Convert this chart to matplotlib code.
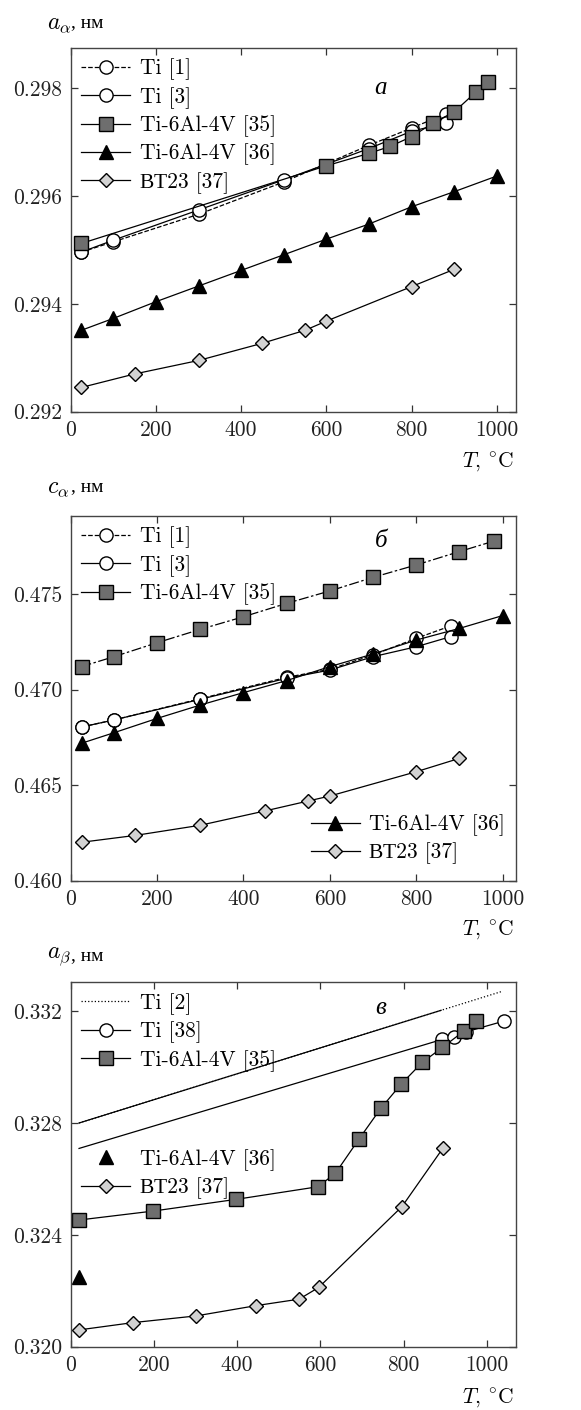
import matplotlib
matplotlib.use("Agg")
import matplotlib.pyplot as plt

plt.rcParams['mathtext.fontset'] = 'cm'
plt.rcParams['font.family'] = ['cmr10', 'Liberation Serif']
plt.rcParams['axes.formatter.use_mathtext'] = True

# ---- панель а: a_alpha ----
a_ti1_t = [25, 100, 300, 500, 700, 800, 880]
a_ti1 = [0.29496, 0.29515, 0.29566, 0.29626, 0.29694, 0.29726, 0.29752]
a_ti3_t = [25, 100, 300, 500, 700, 800, 880]
a_ti3 = [0.29496, 0.29518, 0.29574, 0.29630, 0.29688, 0.29720, 0.29735]
a_35_t = [25, 600, 700, 750, 800, 850, 900, 950, 980]
a_35 = [0.29512, 0.29656, 0.29679, 0.29692, 0.29710, 0.29735, 0.29756, 0.29792, 0.29811]
a_36_t = [25, 100, 200, 300, 400, 500, 600, 700, 800, 900, 1000]
a_36 = [0.29351, 0.29373, 0.29404, 0.29433, 0.29462, 0.29491, 0.29520, 0.29548, 0.29580, 0.29608, 0.29637]
a_37_t = [25, 150, 300, 450, 550, 600, 800, 900]
a_37 = [0.29245, 0.29270, 0.29295, 0.29327, 0.29351, 0.29368, 0.29432, 0.29464]

# ---- панель б: c_alpha ----
c_ti1_t = [25, 100, 300, 500, 600, 700, 800, 880]
c_ti1 = [0.46804, 0.46841, 0.46952, 0.47064, 0.47106, 0.47181, 0.47268, 0.47333]
c_ti3_t = [25, 100, 300, 500, 600, 700, 800, 880]
c_ti3 = [0.46804, 0.46841, 0.46949, 0.47059, 0.47102, 0.47172, 0.47224, 0.47277]
c_35_t = [25, 100, 200, 300, 400, 500, 600, 700, 800, 900, 980]
c_35 = [0.47120, 0.47172, 0.47245, 0.47315, 0.47381, 0.47451, 0.47516, 0.47587, 0.47652, 0.47722, 0.47777]
c_36_t = [25, 100, 200, 300, 400, 500, 600, 700, 800, 900, 1000]
c_36 = [0.46719, 0.46774, 0.46849, 0.46919, 0.46984, 0.47047, 0.47120, 0.47186, 0.47259, 0.47320, 0.47387]
c_37_t = [25, 150, 300, 450, 550, 600, 800, 900]
c_37 = [0.46201, 0.46237, 0.46290, 0.46365, 0.46417, 0.46443, 0.46570, 0.46640]

# ---- панель в: a_beta ----
b_ti2_t = [20, 890, 1035]
b_ti2 = [0.32800, 0.33203, 0.33270]
b_ti38_t = [20, 893, 920, 950, 1040]
b_ti38 = [0.32709, 0.33099, 0.33108, 0.33126, 0.33164]
b_35_t = [20, 198, 398, 594, 636, 693, 745, 794, 845, 893, 946, 973]
b_35 = [0.32453, 0.32485, 0.32527, 0.32572, 0.32620, 0.32743, 0.32852, 0.32939, 0.33017, 0.33070, 0.33130, 0.33166]
b_36_t = [20]
b_36 = [0.32250]
b_37_t = [20, 149, 301, 446, 549, 596, 796, 894]
b_37 = [0.32060, 0.32086, 0.32110, 0.32147, 0.32170, 0.32212, 0.32501, 0.32709]

SQ = '#6e6e6e'
DI = '#d2d2d2'
LW = 0.9
MS = 9.5
FS = 15.5
lab_font = ['cmr10', 'Liberation Serif']
leg_kw = dict(frameon=False, prop={'family': lab_font, 'size': FS},
              handlelength=2.25, handletextpad=0.45, labelspacing=0.31,
              borderaxespad=0.3, borderpad=0.2)


def style_axes(ax, xmax, ylo, yhi, yticks, ylabels):
    ax.set_xlim(0, xmax)
    ax.set_ylim(ylo, yhi)
    ax.set_xticks([0, 200, 400, 600, 800, 1000])
    ax.set_xticklabels(['0', '200', '400', '600', '800', '1000'])
    ax.set_yticks(yticks)
    ax.set_yticklabels(ylabels)
    ax.tick_params(direction='in', top=True, right=True, length=5, width=0.9,
                   labelsize=FS, colors='#333333', labelcolor='#222222', pad=6)
    for s in ax.spines.values():
        s.set_linewidth(1.0)
        s.set_color('#444444')


fig = plt.figure(figsize=(5.81, 14.10), dpi=100)
ax1 = fig.add_axes([0.1217, 0.708, 0.7664, 0.2582])
ax2 = fig.add_axes([0.1217, 0.3754, 0.7664, 0.2589])
ax3 = fig.add_axes([0.1217, 0.0449, 0.7664, 0.2584])

# панель а
ax1.plot(a_ti1_t, a_ti1, '--', color='k', lw=LW, marker='o', ms=MS, mfc='white', mec='k', label='Ti [1]')
ax1.plot(a_ti3_t, a_ti3, '-', color='k', lw=LW, marker='o', ms=MS, mfc='white', mec='k', label='Ti [3]')
ax1.plot(a_35_t, a_35, '-', color='k', lw=LW, marker='s', ms=MS, mfc=SQ, mec='k', label='Ti-6Al-4V [35]')
ax1.plot(a_36_t, a_36, '-', color='k', lw=LW, marker='^', ms=MS + 1, mfc='k', mec='k', label='Ti-6Al-4V [36]')
ax1.plot(a_37_t, a_37, '-', color='k', lw=LW, marker='D', ms=7, mfc=DI, mec='k', label='ВТ23 [37]')
style_axes(ax1, 1045, 0.292, 0.29875, [0.292, 0.294, 0.296, 0.298],
           ['0.292', '0.294', '0.296', '0.298'])
ax1.legend(loc='upper left', **leg_kw)
ax1.text(728, 0.29800, 'а', fontsize=18, style='italic', family='Liberation Serif',
         ha='center', va='center')

# панель б
ax2.plot(c_ti1_t, c_ti1, '--', color='k', lw=LW, marker='o', ms=MS, mfc='white', mec='k', label='Ti [1]')
ax2.plot(c_ti3_t, c_ti3, '-', color='k', lw=LW, marker='o', ms=MS, mfc='white', mec='k', label='Ti [3]')
ax2.plot(c_35_t, c_35, '-.', color='k', lw=LW, marker='s', ms=MS, mfc=SQ, mec='k', dashes=[8, 2, 2, 2])
ax2.plot([], [], '-', color='k', lw=LW, marker='s', ms=MS, mfc=SQ, mec='k', label='Ti-6Al-4V [35]')
ax2.plot(c_36_t, c_36, '-', color='k', lw=LW, marker='^', ms=MS + 1, mfc='k', mec='k', label='Ti-6Al-4V [36]')
ax2.plot(c_37_t, c_37, '-', color='k', lw=LW, marker='D', ms=7, mfc=DI, mec='k', label='ВТ23 [37]')
style_axes(ax2, 1031, 0.460, 0.4791, [0.460, 0.465, 0.470, 0.475],
           ['0.460', '0.465', '0.470', '0.475'])
h, l = ax2.get_legend_handles_labels()
leg_a = ax2.legend(h[:3], l[:3], loc='upper left', **leg_kw)
ax2.add_artist(leg_a)
ax2.legend(h[3:], l[3:], loc='lower right', bbox_to_anchor=(1.0, 0.015), **leg_kw)
ax2.text(719, 0.47777, 'б', fontsize=18, style='italic', family='Liberation Serif',
         ha='center', va='center')

# панель в
ax3.plot(b_ti2_t, b_ti2, ':', color='k', lw=LW, label='Ti [2]')
ax3.plot(b_ti2_t[:2], b_ti2[:2], '-', color='k', lw=LW)
ax3.plot(b_ti38_t, b_ti38, '-', color='k', lw=LW, marker='o', ms=MS, mfc='white', mec='k',
         markevery=[1, 2, 3, 4], label='Ti [38]')
ax3.plot(b_35_t, b_35, '-', color='k', lw=LW, marker='s', ms=MS, mfc=SQ, mec='k', label='Ti-6Al-4V [35]')
ax3.plot(b_36_t, b_36, 'none', marker='^', ms=MS + 1, mfc='k', mec='k', label='Ti-6Al-4V [36]')
ax3.plot(b_37_t, b_37, '-', color='k', lw=LW, marker='D', ms=7, mfc=DI, mec='k', label='ВТ23 [37]')
style_axes(ax3, 1070, 0.320, 0.33303, [0.320, 0.324, 0.328, 0.332],
           ['0.320', '0.324', '0.328', '0.332'])
h, l = ax3.get_legend_handles_labels()
leg_b = ax3.legend(h[:3], l[:3], loc='upper left', **leg_kw)
ax3.add_artist(leg_b)
ax3.legend(h[3:], l[3:], loc='upper left', bbox_to_anchor=(0.0, 0.572), **leg_kw)
ax3.text(744, 0.3321, 'в', fontsize=18, style='italic', family='Liberation Serif',
         ha='center', va='center')

# подписи осей
ylabs = [r'$a_\alpha$', r'$c_\alpha$', r'$a_\beta$']
ypos = [24, 488, 957]
for yl, yp in zip(ylabs, ypos):
    fig.text(47 / 581, 1 - yp / 1410, yl, fontsize=17, ha='left', va='center')
    fig.text(71 / 581, 1 - (yp - 1) / 1410, ', нм', fontsize=14, family='Liberation Serif',
             ha='left', va='center')

for yp in [462, 930, 1398]:
    fig.text(514 / 581, 1 - yp / 1410, r'$T$, $^{\circ}$C', fontsize=FS, ha='right', va='center')

fig.savefig('out.png', dpi=100)
